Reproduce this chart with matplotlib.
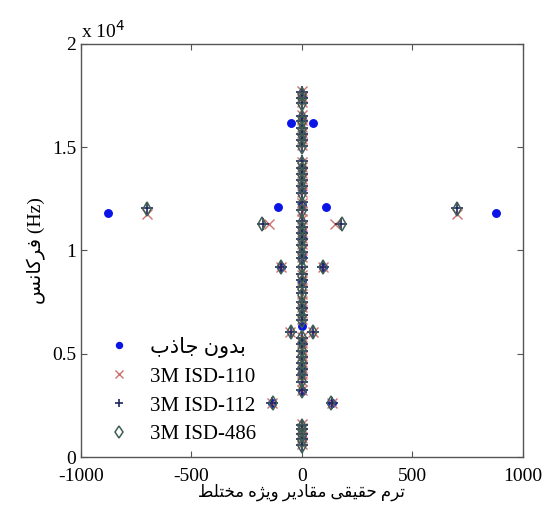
import matplotlib
matplotlib.use('Agg')
import matplotlib.pyplot as plt
import numpy as np

plt.rcParams['font.family'] = ['Liberation Serif', 'DejaVu Sans']
plt.rcParams['axes.unicode_minus'] = False

# Persian letters -> presentation forms (isolated, final, initial, medial)
FORMS = {
    'ا': ('\uFE8D', '\uFE8E'),
    'ب': ('\uFE8F', '\uFE90', '\uFE91', '\uFE92'),
    'ت': ('\uFE95', '\uFE96', '\uFE97', '\uFE98'),
    'ج': ('\uFE9D', '\uFE9E', '\uFE9F', '\uFEA0'),
    'ح': ('\uFEA1', '\uFEA2', '\uFEA3', '\uFEA4'),
    'خ': ('\uFEA5', '\uFEA6', '\uFEA7', '\uFEA8'),
    'د': ('\uFEA9', '\uFEAA'),
    'ذ': ('\uFEAB', '\uFEAC'),
    'ر': ('\uFEAD', '\uFEAE'),
    'ژ': ('\uFB8A', '\uFB8B'),
    'س': ('\uFEB1', '\uFEB2', '\uFEB3', '\uFEB4'),
    'ط': ('\uFEC1', '\uFEC2', '\uFEC3', '\uFEC4'),
    'ف': ('\uFED1', '\uFED2', '\uFED3', '\uFED4'),
    'ق': ('\uFED5', '\uFED6', '\uFED7', '\uFED8'),
    'ک': ('\uFB8E', '\uFB8F', '\uFB90', '\uFB91'),
    'ل': ('\uFEDD', '\uFEDE', '\uFEDF', '\uFEE0'),
    'م': ('\uFEE1', '\uFEE2', '\uFEE3', '\uFEE4'),
    'ن': ('\uFEE5', '\uFEE6', '\uFEE7', '\uFEE8'),
    'ه': ('\uFEE9', '\uFEEA', '\uFEEB', '\uFEEC'),
    'و': ('\uFEED', '\uFEEE'),
    'ی': ('\uFBFC', '\uFBFD', '\uFBFE', '\uFBFF'),
}


def fa(text):
    out = []
    for i, c in enumerate(text):
        if c not in FORMS:
            out.append(c)
            continue
        prev = text[i - 1] if i > 0 else ''
        nxt = text[i + 1] if i + 1 < len(text) else ''
        jp = prev in FORMS and len(FORMS[prev]) == 4
        jn = nxt in FORMS and len(FORMS[c]) == 4
        out.append(FORMS[c][(1 if jp else 0) + (2 if jn else 0)])
    return ''.join(reversed(out))


labels = [fa('بدون جاذب'), '3M ISD-110', '3M ISD-112', '3M ISD-486']

# off-axis modes (real part, frequency Hz)
side_re_none = [-880, 880, -110, 110, -48, 48, -95, 95, -135, 135]
side_f_none = [11800, 11800, 12100, 12100, 16150, 16150, 9200, 9200, 2600, 2600]

side_re_110 = [-700, 700, -150, 150, -95, 95, -52, 52, -135, 135]
side_f_110 = [11750, 11750, 11300, 11300, 9200, 9200, 6050, 6050, 2600, 2600]

side_re_112 = [-700, 700, -178, 178, -95, 95, -50, 50, -135, 135]
side_f_112 = [12050, 12050, 11300, 11300, 9200, 9200, 6050, 6050, 2600, 2600]

side_re_486 = [-700, 700, -180, 180, -95, 95, -50, 50, -133, 133]
side_f_486 = [12000, 12000, 11300, 11300, 9200, 9200, 6050, 6050, 2600, 2600]

# modes with ~zero real part (frequency Hz)
axis_f_none = [17500, 16400, 15600, 14000, 13000, 12200, 11000, 10800, 10600,
               9700, 8500, 7200, 6350, 5500, 4200, 3200, 1000]
axis_f_110 = [17200, 17450, 17700, 15100, 15400, 15700, 16000, 16300, 16550,
              12850, 13150, 13450, 13750, 14050, 14300, 11900, 12300,
              9700, 10000, 10300, 10600, 10900, 11200, 11500, 7900, 8200,
              8500, 8800, 9050, 6700, 6950, 7250, 7550, 3700, 4000, 4300,
              4600, 4900, 5200, 5500, 5800, 3250, 650, 900, 1150, 1400, 1600]
axis_f_112 = [17150, 17400, 17650, 15050, 15350, 15650, 15950, 16250, 16500,
              12800, 13100, 13400, 13700, 14000, 14350, 11950, 12350,
              9650, 9950, 10250, 10550, 10850, 11150, 11450, 7950, 8250,
              8550, 8850, 9200, 6650, 6900, 7200, 7500, 3650, 3950, 4250,
              4550, 4850, 5150, 5450, 5750, 3250, 600, 850, 1100, 1350, 1550]
axis_f_486 = [17100, 17350, 17600, 15000, 15300, 15600, 15900, 16200, 16450,
              12750, 13050, 13350, 13650, 13950, 14250, 11900, 12250,
              9600, 9900, 10200, 10500, 10800, 11100, 11400, 7850, 8150,
              8450, 8750, 9200, 6600, 6850, 7150, 7450, 3700, 4000, 4300,
              4600, 4900, 5200, 5500, 5800, 3200, 550, 800, 1050, 1300, 1500]
axis_re = 0.0

series = [
    (side_re_none, side_f_none, axis_f_none, dict(marker='o', ms=5.4, color='#0a14e6', mec='#0a14e6', ls='none')),
    (side_re_110, side_f_110, axis_f_110, dict(marker='x', ms=7, color='#d07070', mew=1.0, ls='none')),
    (side_re_112, side_f_112, axis_f_112, dict(marker='+', ms=8, color='#1f2860', mew=1.2, ls='none')),
    (side_re_486, side_f_486, axis_f_486, dict(marker='d', ms=7.5, mfc='none', mec='#3f5f52', mew=1.1, ls='none')),
]

fig = plt.figure(figsize=(5.51, 5.05), dpi=100)
ax = fig.add_axes([0.147, 0.095, 0.802, 0.818])

handles = []
for (sre, sf, af, style), lab in zip(series, labels):
    x = np.concatenate([sre, np.full(len(af), axis_re)])
    y = np.concatenate([sf, af])
    h, = ax.plot(x, y, label=lab, **style)
    handles.append(h)

ax.set_xlim(-1000, 1000)
ax.set_ylim(0, 20000)
ax.set_xticks([-1000, -500, 0, 500, 1000])
ax.set_yticks([0, 5000, 10000, 15000, 20000])
ax.set_yticklabels(['0', '0.5', '1', '1.5', '2'])
ax.tick_params(direction='in', top=True, right=True, length=4, width=0.8,
               labelsize=14, color='#555555')
ax.tick_params(axis='x', pad=8)
for s in ax.spines.values():
    s.set_color('#555555')
    s.set_linewidth(1.0)
ax.text(0.0, 1.005, 'x 10$^{4}$', transform=ax.transAxes, fontsize=14,
        ha='left', va='bottom')

ax.set_xlabel(fa('ترم حقیقی مقادیر ویژه مختلط'), fontsize=12, labelpad=-1)
ax.set_ylabel(fa('فرکانس') + ' (Hz)', fontsize=14, labelpad=4)

ax.legend(handles=handles, loc='lower left', frameon=False, fontsize=15,
          bbox_to_anchor=(0.02, -0.015), handletextpad=1.0, labelspacing=0.45,
          handlelength=1.0, markerscale=0.8)

fig.savefig('out.png', dpi=100)
